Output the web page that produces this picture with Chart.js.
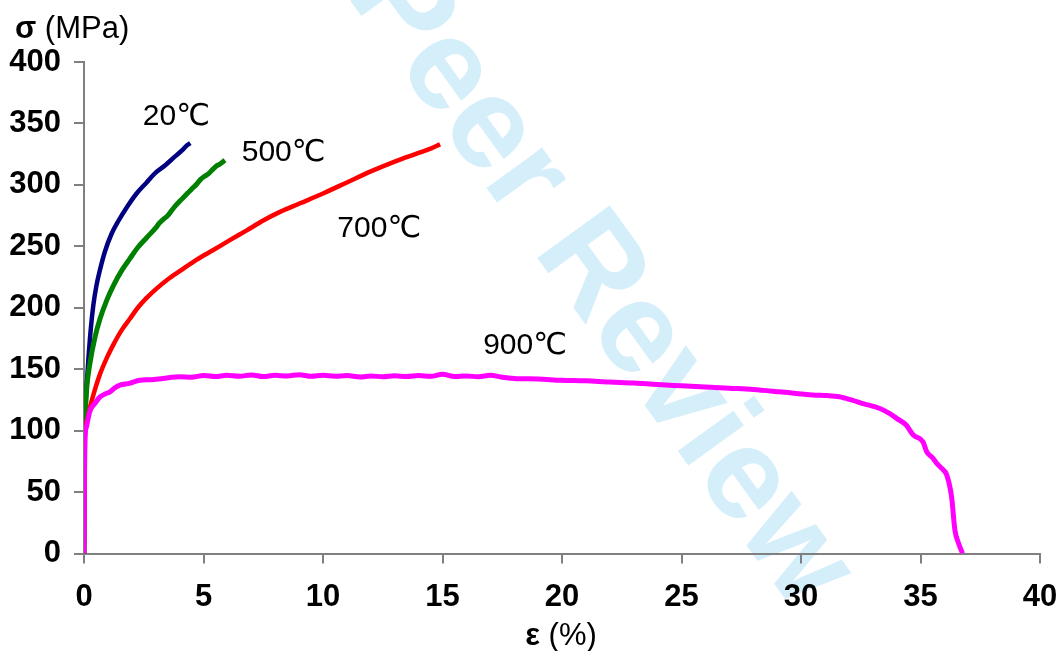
<!DOCTYPE html>
<html>
<head>
<meta charset="utf-8">
<script src="https://cdn.jsdelivr.net/npm/chart.js@4.4.0/dist/chart.umd.min.js"></script>
<style>
  html, body { margin: 0; padding: 0; background: #fff; }
</style>
</head>
<body>
<canvas id="stressStrain" width="1061" height="651"></canvas>
<script>
// strain (%) and stress (MPa)
const strain20 = [0, 0.02, 0.05, 0.11, 0.18, 0.28, 0.39, 0.52, 0.67, 0.88, 1.15, 1.45, 1.8, 2.2, 2.62, 3.0, 3.4, 3.8, 4.1, 4.3, 4.45];
const stress20 = [0, 100, 118, 136, 157, 182, 202, 218, 231, 246, 260, 271, 282, 293, 302, 310, 316, 323, 328, 332, 334];

const strain500 = [0, 0.02, 0.06, 0.12, 0.25, 0.46, 0.67, 0.95, 1.23, 1.6, 1.92, 2.25, 2.62, 3.0, 3.15, 3.32, 3.5, 3.7, 3.85,
  4.02, 4.2, 4.35, 4.5, 4.71, 4.88, 5.05, 5.2, 5.41, 5.55, 5.65, 5.9];
const stress500 = [0, 100, 118, 136, 155, 176, 191, 206, 218, 231, 240, 249, 257, 265, 268.8, 272, 275, 280, 283.5,
  287, 290.5, 293.5, 296.5, 300.5, 304.5, 307, 309, 313, 315.5, 316.5, 320];

const strain700 = [0, 0.03, 0.1, 0.25, 0.45, 0.67, 0.95, 1.23, 1.55, 1.92, 2.25, 2.62, 3.0, 3.5, 4.02, 4.7, 5.41, 6.1, 6.81,
  7.5, 8.2, 9.04, 10, 11, 12, 13, 13.5, 14, 14.5, 14.9];
const stress700 = [0, 95, 107, 119, 133, 146, 159, 170, 181, 191, 200, 208, 215, 223, 230, 239, 247, 255, 263,
  271, 278, 285, 293, 302, 311, 319, 322.5, 326, 329.5, 333];

const strain900 = [0, 0.02, 0.05, 0.1, 0.25, 0.45, 0.67, 0.9, 1.09, 1.3, 1.5, 1.9, 2.34, 2.8, 3.3, 4.02, 4.5, 5.0, 5.5, 5.97,
  6.5, 7.0, 7.5, 8.0, 8.5, 9.0, 9.5, 10, 10.5, 11, 11.55, 12, 12.5, 13, 13.5, 14, 14.5, 15, 15.5, 16, 16.5, 17, 17.5, 18,
  19, 20, 21, 22, 23, 24, 25, 26, 27, 28, 29.1, 30.5, 31.1, 31.6, 32.1, 32.6, 33.3, 33.7, 34, 34.4, 34.7, 35.1, 35.26,
  35.5, 35.68, 35.9, 36.1, 36.3, 36.44, 36.6, 36.76];
const stress900 = [0, 60, 95, 103, 116, 122, 127.5, 130, 131.6, 135, 137, 138.5, 141, 141.5, 142.5, 143.8, 143.5, 144.8, 144, 145,
  144.2, 145.3, 144, 145, 144.5, 145.5, 144.2, 145, 144.3, 144.8, 143.6, 144.5, 143.8, 144.6, 144, 144.8, 144.2, 145.8, 144, 144.5, 143.8, 145, 143.5, 142.5,
  142, 141, 140.5, 139.5, 138.8, 137.5, 136.5, 135.5, 134.5, 133.5, 131.6, 129, 128.5, 127.5, 125, 122, 118, 114, 110, 104.5, 96.4, 91, 82.8,
  78, 73.4, 69, 63.8, 46.2, 19, 8, 0];

const curveLabels = ['20℃', '500℃', '700℃', '900℃'];
const labelStrain = [2.46, 6.6, 10.6, 16.7];
const labelStress = [348.5, 319.6, 257.7, 162.2];

const xTicks = [0, 5, 10, 15, 20, 25, 30, 35, 40];
const yTicks = [0, 50, 100, 150, 200, 250, 300, 350, 400];

const FONT = '"Liberation Sans", Arial, "DejaVu Sans", sans-serif';

function points(xs, ys) {
  return xs.map((x, i) => ({ x, y: ys[i] }));
}

const watermark = {
  id: 'watermark',
  beforeDraw(chart) {
    const ctx = chart.ctx;
    ctx.save();
    ctx.translate(201, -205);
    ctx.rotate(54 * Math.PI / 180);
    ctx.font = 'bold 130px ' + FONT;
    ctx.fillStyle = '#d4eefa';
    ctx.textBaseline = 'alphabetic';
    ctx.fillText('For Peer Review', 0, 0);
    ctx.restore();
  }
};

const textBits = {
  id: 'textBits',
  afterDraw(chart) {
    const ctx = chart.ctx;
    const xs = chart.scales.x, ys = chart.scales.y;
    ctx.save();
    ctx.fillStyle = '#000';
    ctx.textBaseline = 'alphabetic';
    ctx.textAlign = 'left';
    ctx.font = '30px ' + FONT;
    curveLabels.forEach((t, i) => {
      ctx.fillText(t, xs.getPixelForValue(labelStrain[i]), ys.getPixelForValue(labelStress[i]));
    });

    // y axis title
    ctx.font = 'bold 31px ' + FONT;
    ctx.fillText('σ', 15, 38);
    const w = ctx.measureText('σ').width;
    ctx.font = '31px ' + FONT;
    ctx.fillText(' (MPa)', 15 + w, 38);

    // x axis title
    ctx.font = 'bold 31px ' + FONT;
    const eps = ctx.measureText('ε').width;
    ctx.font = '31px ' + FONT;
    const rest = ctx.measureText(' (%)').width;
    const start = 561 - (eps + rest) / 2;
    ctx.font = 'bold 31px ' + FONT;
    ctx.fillText('ε', start, 645);
    ctx.font = '31px ' + FONT;
    ctx.fillText(' (%)', start + eps, 645);
    ctx.restore();
  }
};

const axisStyle = {
  grid: { drawOnChartArea: false, drawTicks: true, tickLength: 10, color: '#808080', lineWidth: 2 },
  border: { display: true, color: '#808080', width: 2 },
};

new Chart(document.getElementById('stressStrain'), {
  type: 'scatter',
  data: {
    datasets: [
      { label: '900℃', data: points(strain900, stress900), borderColor: '#ff00ff', borderWidth: 5, order: 0 },
      { label: '700℃', data: points(strain700, stress700), borderColor: '#ff0000', borderWidth: 4.5, order: 1 },
      { label: '500℃', data: points(strain500, stress500), borderColor: '#008000', borderWidth: 5, order: 2 },
      { label: '20℃', data: points(strain20, stress20), borderColor: '#000080', borderWidth: 4.5, order: 3 },
    ].map(ds => Object.assign(ds, { showLine: true, pointRadius: 0, cubicInterpolationMode: 'monotone', fill: false }))
  },
  options: {
    responsive: false,
    animation: false,
    layout: { padding: { left: 0, right: 21, top: 62, bottom: 0 } },
    plugins: { legend: { display: false }, tooltip: { enabled: false } },
    scales: {
      x: {
        type: 'linear', min: 0, max: 40,
        afterBuildTicks: s => { s.ticks = xTicks.map(v => ({ value: v })); },
        afterFit: s => { s.height = 97.5; s.paddingLeft = 0; s.paddingRight = 0; },
        ticks: { color: '#000', font: { family: FONT, size: 31, weight: 'bold' }, padding: 15, maxRotation: 0 },
        ...axisStyle
      },
      y: {
        type: 'linear', min: 0, max: 400,
        afterBuildTicks: s => { s.ticks = yTicks.map(v => ({ value: v })); },
        afterFit: s => { s.width = 84; s.paddingTop = 0; s.paddingBottom = 0; },
        ticks: { color: '#000', font: { family: FONT, size: 31, weight: 'bold' }, padding: 13 },
        ...axisStyle
      }
    }
  },
  plugins: [watermark, textBits]
});
</script>
</body>
</html>
